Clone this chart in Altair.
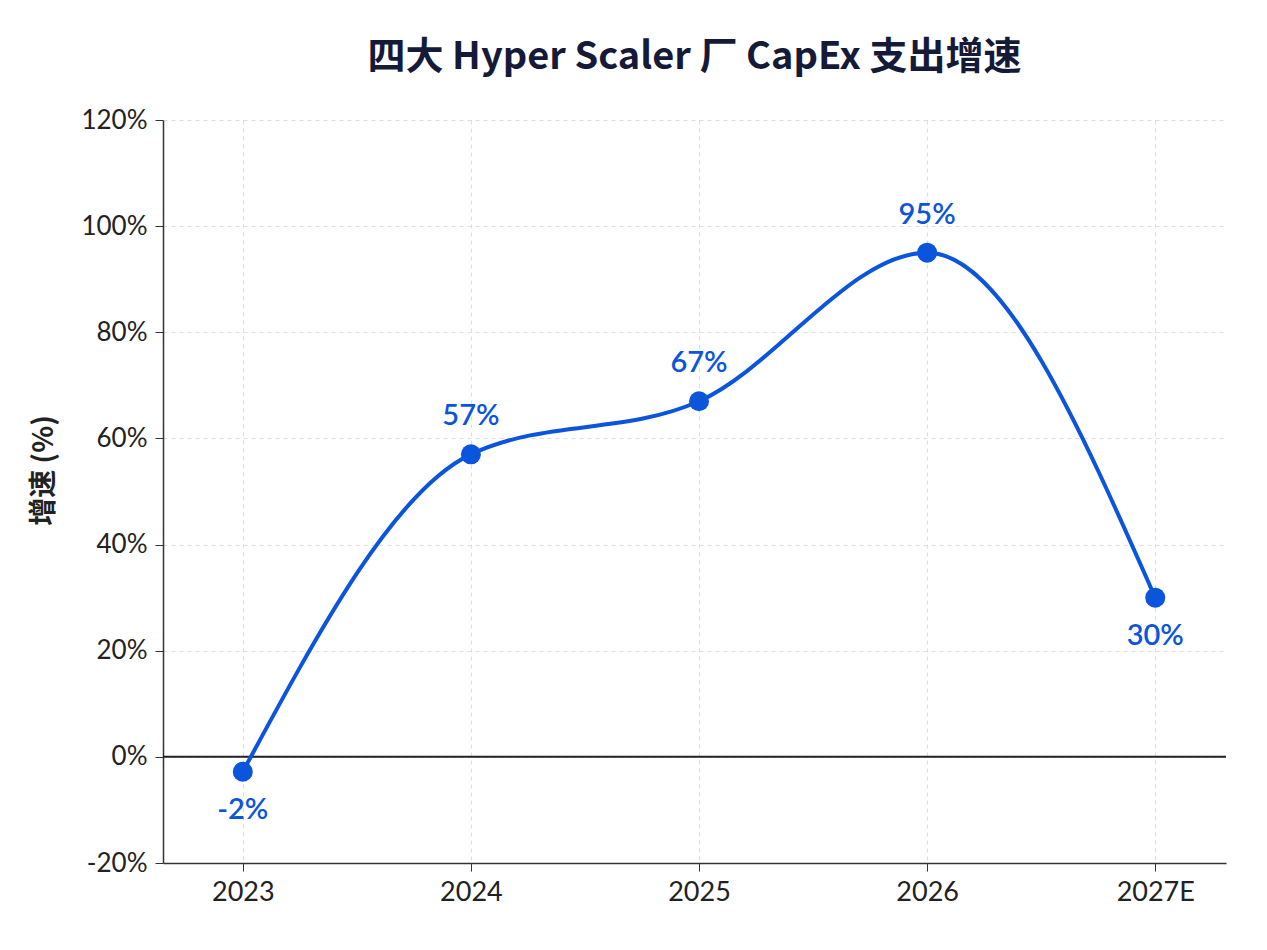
import altair as alt
import pandas as pd

years = ["2023", "2024", "2025", "2026", "2027E"]
growth = [-2.8, 57, 67, 95, 30]
labels = ["-2%", "57%", "67%", "95%", "30%"]
label_pos = ["below", "above", "above", "above", "below"]

df = pd.DataFrame({"year": years, "growth": growth, "label": labels, "pos": label_pos})

BLUE = "#0b55dd"
DARK = "#222222"

x = alt.X("year:N", sort=years, title=None,
          scale=alt.Scale(type="point", padding=0.33, align=0.53),
          axis=alt.Axis(labelAngle=0, labelFontSize=27, labelColor=DARK, labelFont="Lato",
                        labelPadding=8, tickSize=8, tickColor="#333", domainColor="#333",
                        domainWidth=1.5, grid=True, gridDash=[4, 4], gridColor="#dddddd",
                        gridWidth=1))
y = alt.Y("growth:Q", title="增速 (%)",
          scale=alt.Scale(domain=[-20, 120], nice=False, zero=False),
          axis=alt.Axis(values=[-20, 0, 20, 40, 60, 80, 100, 120],
                        labelExpr="datum.value + '%'", labelFontSize=26, labelColor=DARK,
                        labelFont="Lato", labelPadding=8, tickSize=8, tickColor="#333",
                        domainColor="#333", domainWidth=1.5, grid=True, gridDash=[4, 4],
                        gridColor="#dddddd", gridWidth=1, titleFontSize=28,
                        titleFont="Noto Sans CJK SC", titleFontWeight="bold",
                        titleColor=DARK, titleX=-105, titleY=350))

base = alt.Chart(df)

zero = alt.Chart(pd.DataFrame({"z": [0]})).mark_rule(color="#222", strokeWidth=2).encode(y="z:Q")

line = base.mark_line(color=BLUE, strokeWidth=4, interpolate="monotone").encode(x=x, y=y)
pts = base.mark_point(filled=True, color=BLUE, size=400, opacity=1).encode(x=x, y=y)

above = base.transform_filter(alt.datum.pos == "above").mark_text(
    color=BLUE, fontSize=29, fontWeight=600, font="Lato", dy=-38
).encode(x=x, y=y, text="label:N")
below = base.transform_filter(alt.datum.pos == "below").mark_text(
    color=BLUE, fontSize=29, fontWeight=600, font="Lato", dy=38
).encode(x=x, y=y, text="label:N")

chart = alt.layer(zero, line, pts, above, below).properties(
    width=1063, height=743,
    title=alt.TitleParams("四大 Hyper Scaler 厂 CapEx 支出增速", fontSize=38,
                          font="Noto Sans CJK SC", fontWeight="bold", color="#151a38",
                          anchor="middle", offset=30),
    autosize=alt.AutoSizeParams(type="none"),
    padding={"left": 155, "top": 112, "right": 25, "bottom": 60},
    background="white",
).configure_view(stroke=None)

chart.save("out.html", embed_options={"renderer": "svg", "actions": False})
